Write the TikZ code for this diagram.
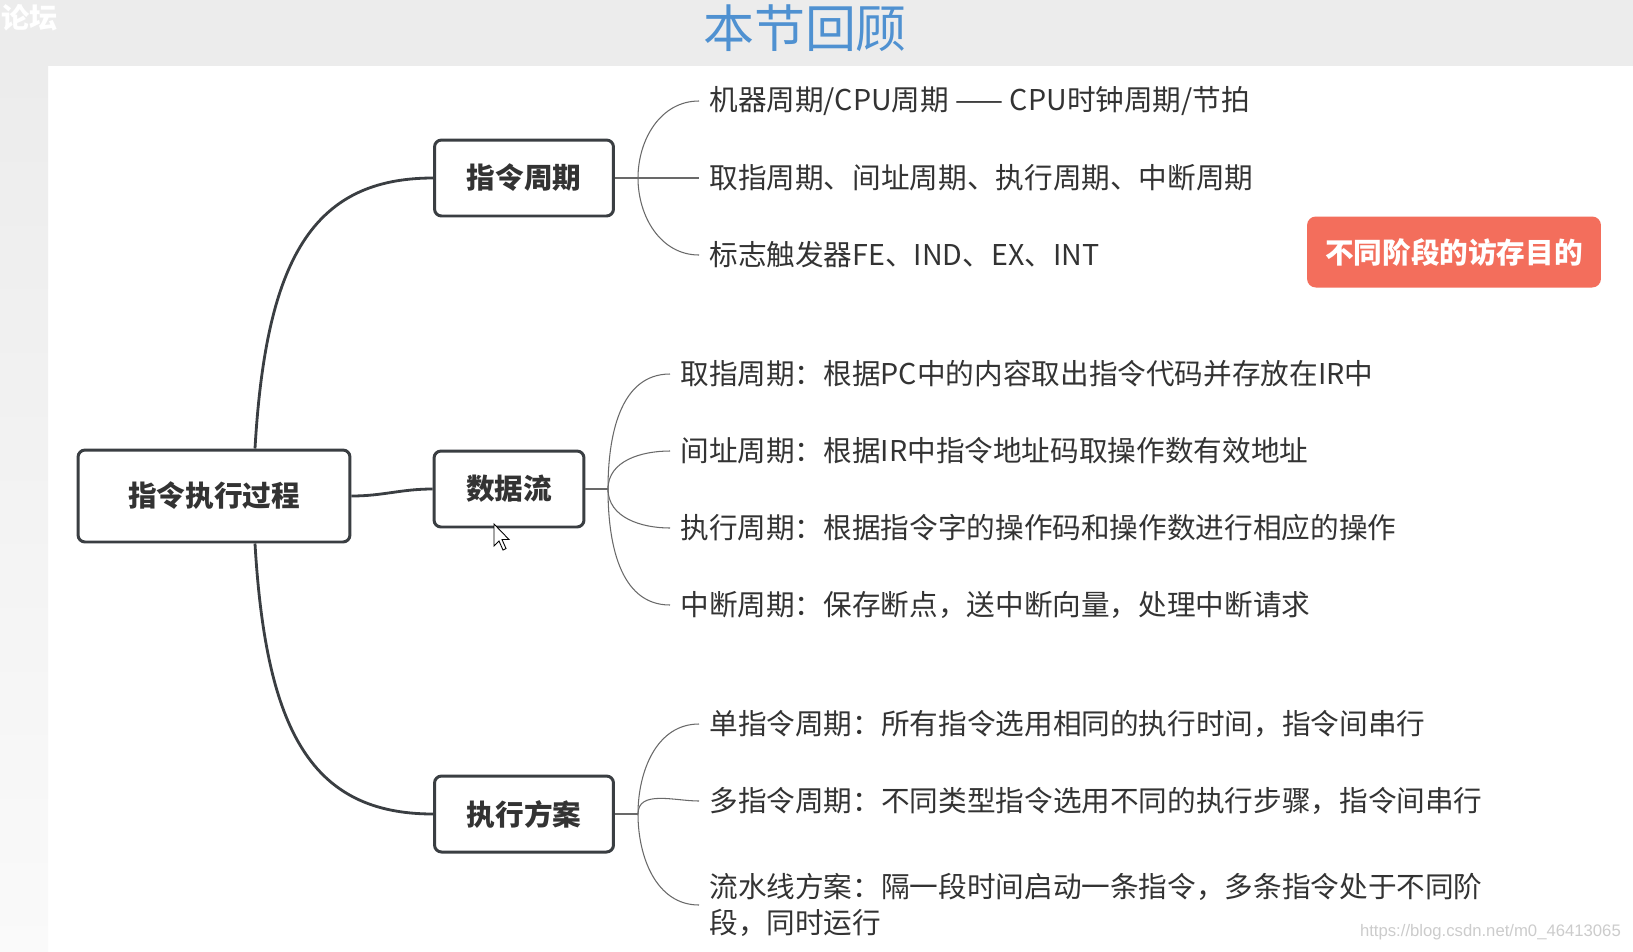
\documentclass[tikz,border=0pt]{standalone}
\usepackage{fontspec}
\setmainfont{Noto Sans CJK SC}
\newfontfamily\urlfont{Liberation Sans}
\usepackage{xcolor}
\usepackage{tikz}

\definecolor{bandgrey}{RGB}{236,236,236}
\definecolor{titleblue}{RGB}{79,145,209}
\definecolor{boxred}{RGB}{243,110,92}
\definecolor{ink}{RGB}{51,51,51}
\definecolor{edge}{RGB}{58,62,66}
\definecolor{twig}{RGB}{105,105,105}

\begin{document}
\begin{tikzpicture}[x=0.02cm,y=-0.02cm,
		topic/.style={draw=edge,line width=1.7pt,rounded corners=4pt,fill=white,text=ink,
			inner sep=0pt,minimum height=1.52cm,font=\fontsize{16.3pt}{20pt}\selectfont\bfseries},
		leaf/.style={anchor=west,inner xsep=5.7pt,inner ysep=0pt,text=ink,align=left,
			font=\fontsize{16.3pt}{20.8pt}\selectfont},
		trunk/.style={draw=edge,line width=1.6pt},
		twig/.style={draw=twig,line width=0.6pt}]
			\useasboundingbox (0,0) rectangle (1633,951);
			\fill[white] (0,0) rectangle (1633,951);
			\fill[bandgrey] (0,0) rectangle (1633,66);
			\shade[top color=bandgrey,bottom color=white!98!black] (0,66) rectangle (48,951);

			\node[anchor=west,inner sep=0pt,text=white,font=\fontsize{16pt}{20pt}\selectfont\bfseries] (forum) at (1,18) {论坛};
			\node[text=titleblue,font=\fontsize{29pt}{34pt}\selectfont] (title) at (805,28) {本节回顾};

			\node[topic,minimum width=5.44cm,minimum height=1.84cm] (root) at (214,496) {指令执行过程};
			\node[topic,minimum width=3.58cm] (cyc) at (524,178) {指令周期};
			\node[topic,minimum width=3.0cm] (flow) at (509,489) {数据流};
			\node[topic,minimum width=3.58cm] (plan) at (524,814) {执行方案};

			\draw[trunk] ([xshift=0.82cm]root.north) .. controls (266,260) and (312,178) .. (cyc.west);
			\draw[trunk] ([xshift=0.82cm]root.south) .. controls (266,732) and (312,814) .. (plan.west);
			\draw[trunk] (root.east) to[out=0,in=180] (flow.west);

			\node[leaf] (c1) at (699,101) {机器周期/CPU周期 —— CPU时钟周期/节拍};
			\node[leaf] (c2) at (699,178) {取指周期、间址周期、执行周期、中断周期};
			\node[leaf] (c3) at (699,255) {标志触发器FE、IND、EX、INT};
			\coordinate (f1) at (638,178);
			\draw[twig] (cyc.east) -- (f1);
			\draw[twig] (f1) to[out=90,in=180] (c1.west);
			\draw[twig] (f1) -- (c2.west);
			\draw[twig] (f1) to[out=-90,in=180] (c3.west);

			\node[leaf] (d1) at (670,374) {取指周期：根据PC中的内容取出指令代码并存放在IR中};
			\node[leaf] (d2) at (670,451) {间址周期：根据IR中指令地址码取操作数有效地址};
			\node[leaf] (d3) at (670,528) {执行周期：根据指令字的操作码和操作数进行相应的操作};
			\node[leaf] (d4) at (670,605) {中断周期：保存断点，送中断向量，处理中断请求};
			\coordinate (f2) at (608,489);
			\draw[twig] (flow.east) -- (f2);
			\draw[twig] (f2) to[out=90,in=180] (d1.west);
			\draw[twig] (f2) to[out=90,in=180] (d2.west);
			\draw[twig] (f2) to[out=-90,in=180] (d3.west);
			\draw[twig] (f2) to[out=-90,in=180] (d4.west);

			\node[leaf] (p1) at (699,724) {单指令周期：所有指令选用相同的执行时间，指令间串行};
			\node[leaf] (p2) at (699,801) {多指令周期：不同类型指令选用不同的执行步骤，指令间串行};
			\node[leaf] (p3) at (699,905) {流水线方案：隔一段时间启动一条指令，多条指令处于不同阶\\段，同时运行};
			\coordinate (f3) at (638,814);
			\draw[twig] (plan.east) -- (f3);
			\draw[twig] (f3) to[out=90,in=180] (p1.west);
			\draw[twig] (f3) to[out=90,in=180] (p2.west);
			\draw[twig] (f3) to[out=-90,in=180] (p3.west);

			\node[fill=boxred,rounded corners=5pt,text=white,minimum width=5.88cm,minimum height=1.42cm,
				font=\fontsize{16.3pt}{20pt}\selectfont\bfseries] (goal) at (1454,252) {不同阶段的访存目的};

			\filldraw[fill=white,draw=black,line width=0.5pt] (494,524) -- ++(0,22) -- ++(5,-5) -- ++(4,9)
				-- ++(3,-1.5) -- ++(-4,-9) -- ++(7,0) -- cycle;

			\node[anchor=east,text=black!20,font=\urlfont\fontsize{9.5pt}{11pt}\selectfont] (mark) at (1627,932) {https://blog.csdn.net/m0\_46413065};
		\end{tikzpicture}
\end{document}
